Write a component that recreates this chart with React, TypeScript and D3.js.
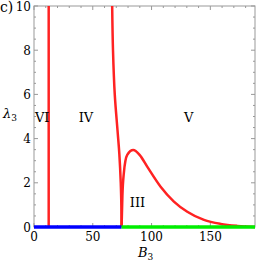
import React from 'react';
import * as d3 from 'd3';

// boundary between VI and IV
const lineVI = [
  { b: 12.5, l: 0 },
  { b: 12.5, l: 10 },
];
// left branch coming down from the top into the cusp
const branchIV = [
  { b: 66.5, l: 10 },
  { b: 67.2, l: 8 },
  { b: 68.7, l: 6 },
  { b: 71.0, l: 4.4 },
  { b: 72.6, l: 3.3 },
  { b: 73.8, l: 2 },
  { b: 74.3, l: 1 },
  { b: 74.5, l: 0 },
];
// hump bounding region III
const humpIII = [
  { b: 74.5, l: 0 },
  { b: 75.2, l: 1.4 },
  { b: 76.4, l: 2.43 },
  { b: 79.3, l: 3.26 },
  { b: 84.4, l: 3.48 },
  { b: 90, l: 3.25 },
  { b: 96.3, l: 2.73 },
  { b: 107.7, l: 1.82 },
  { b: 119, l: 1.15 },
  { b: 130.4, l: 0.69 },
  { b: 144.6, l: 0.32 },
  { b: 158.8, l: 0.14 },
  { b: 173, l: 0.05 },
  { b: 184, l: 0.01 },
  { b: 188, l: 0.005 },
];
const blueSeg = [0, 74.5];
const greenSeg = [74.5, 188];

const xMajor = [0, 50, 100, 150];
const yMajor = [0, 2, 4, 6, 8, 10];
const regions = [
  { t: 'VI', b: 0.8, l: 5 },
  { t: 'IV', b: 38, l: 5 },
  { t: 'V', b: 127.5, l: 5 },
  { t: 'III', b: 81.5, l: 1.15 },
];

const W = 256;
const H = 262;
const left = 34;
const right = 255;
const top = 6;
const bottom = 227;

const App = () => {
  const x = d3.scaleLinear().domain([0, 188]).range([left, right]);
  const y = d3.scaleLinear().domain([0, 10]).range([bottom, top]);
  const line = d3
    .line<{ b: number; l: number }>()
    .x((d) => x(d.b))
    .y((d) => y(d.l))
    .curve(d3.curveMonotoneX);
  const lineC = d3
    .line<{ b: number; l: number }>()
    .x((d) => x(d.b))
    .y((d) => y(d.l))
    .curve(d3.curveCatmullRom);

  const xMinor = d3.range(0, 188, 10).filter((v) => v % 50 !== 0);
  const yMinor = d3.range(0, 10, 0.5).filter((v) => v % 2 !== 0);
  const tc = '#999';
  const font = 'DejaVu Serif';

  return (
    <svg width={W} height={H} style={{ position: 'absolute', left: 0, top: 0 }}>
      <rect x={left} y={top} width={right - left} height={bottom - top} fill='none' stroke={tc} strokeWidth={1} />
      {/* ticks on all four sides */}
      {xMajor.map((v) => (
        <g key={'xm' + v} stroke={tc}>
          <line x1={x(v)} x2={x(v)} y1={bottom} y2={bottom - 4} />
          <line x1={x(v)} x2={x(v)} y1={top} y2={top + 4} />
        </g>
      ))}
      {xMinor.map((v) => (
        <g key={'xn' + v} stroke={tc}>
          <line x1={x(v)} x2={x(v)} y1={bottom} y2={bottom - 2} />
          <line x1={x(v)} x2={x(v)} y1={top} y2={top + 2} />
        </g>
      ))}
      {yMajor.map((v) => (
        <g key={'ym' + v} stroke={tc}>
          <line x1={left} x2={left + 4} y1={y(v)} y2={y(v)} />
          <line x1={right} x2={right - 4} y1={y(v)} y2={y(v)} />
        </g>
      ))}
      {yMinor.map((v) => (
        <g key={'yn' + v} stroke={tc}>
          <line x1={left} x2={left + 2} y1={y(v)} y2={y(v)} />
          <line x1={right} x2={right - 2} y1={y(v)} y2={y(v)} />
        </g>
      ))}
      <g fontFamily={font}>
        {xMajor.map((v) => (
          <text key={'xl' + v} x={x(v)} y={bottom + 14} textAnchor='middle' fontSize={12}>
            {v}
          </text>
        ))}
        {yMajor.map((v) => (
          <text key={'yl' + v} x={left - 3} y={y(v) + 4.5} textAnchor='end' fontSize={12}>
            {v}
          </text>
        ))}
      </g>

      {/* curves */}
      <path d={lineC(lineVI) || ''} fill='none' stroke='#f22' strokeWidth={2.5} />
      <path d={lineC(branchIV) || ''} fill='none' stroke='#f22' strokeWidth={2.5} />
      <path d={line(humpIII) || ''} fill='none' stroke='#f22' strokeWidth={2.5} />
      <line x1={x(blueSeg[0])} x2={x(blueSeg[1])} y1={y(0)} y2={y(0)} stroke='#00f' strokeWidth={3.5} />
      <line x1={x(greenSeg[0])} x2={x(greenSeg[1])} y1={y(0)} y2={y(0)} stroke='#0e0' strokeWidth={3.5} />

      <g fontFamily={font}>
        {regions.map((r) => (
          <text key={r.t} x={x(r.b)} y={y(r.l) + 5} fontSize={13}>
            {r.t}
          </text>
        ))}
        <text x={0} y={12} fontSize={14}>
          c)
        </text>
        <text x={3} y={118} fontSize={13} fontStyle='italic'>
          λ<tspan fontSize={9} dy={3} fontStyle='normal'>3</tspan>
        </text>
        <text x={138} y={257} fontSize={13} fontStyle='italic'>
          B<tspan fontSize={9} dy={3} fontStyle='normal'>3</tspan>
        </text>
      </g>
    </svg>
  );
};

export default App;
